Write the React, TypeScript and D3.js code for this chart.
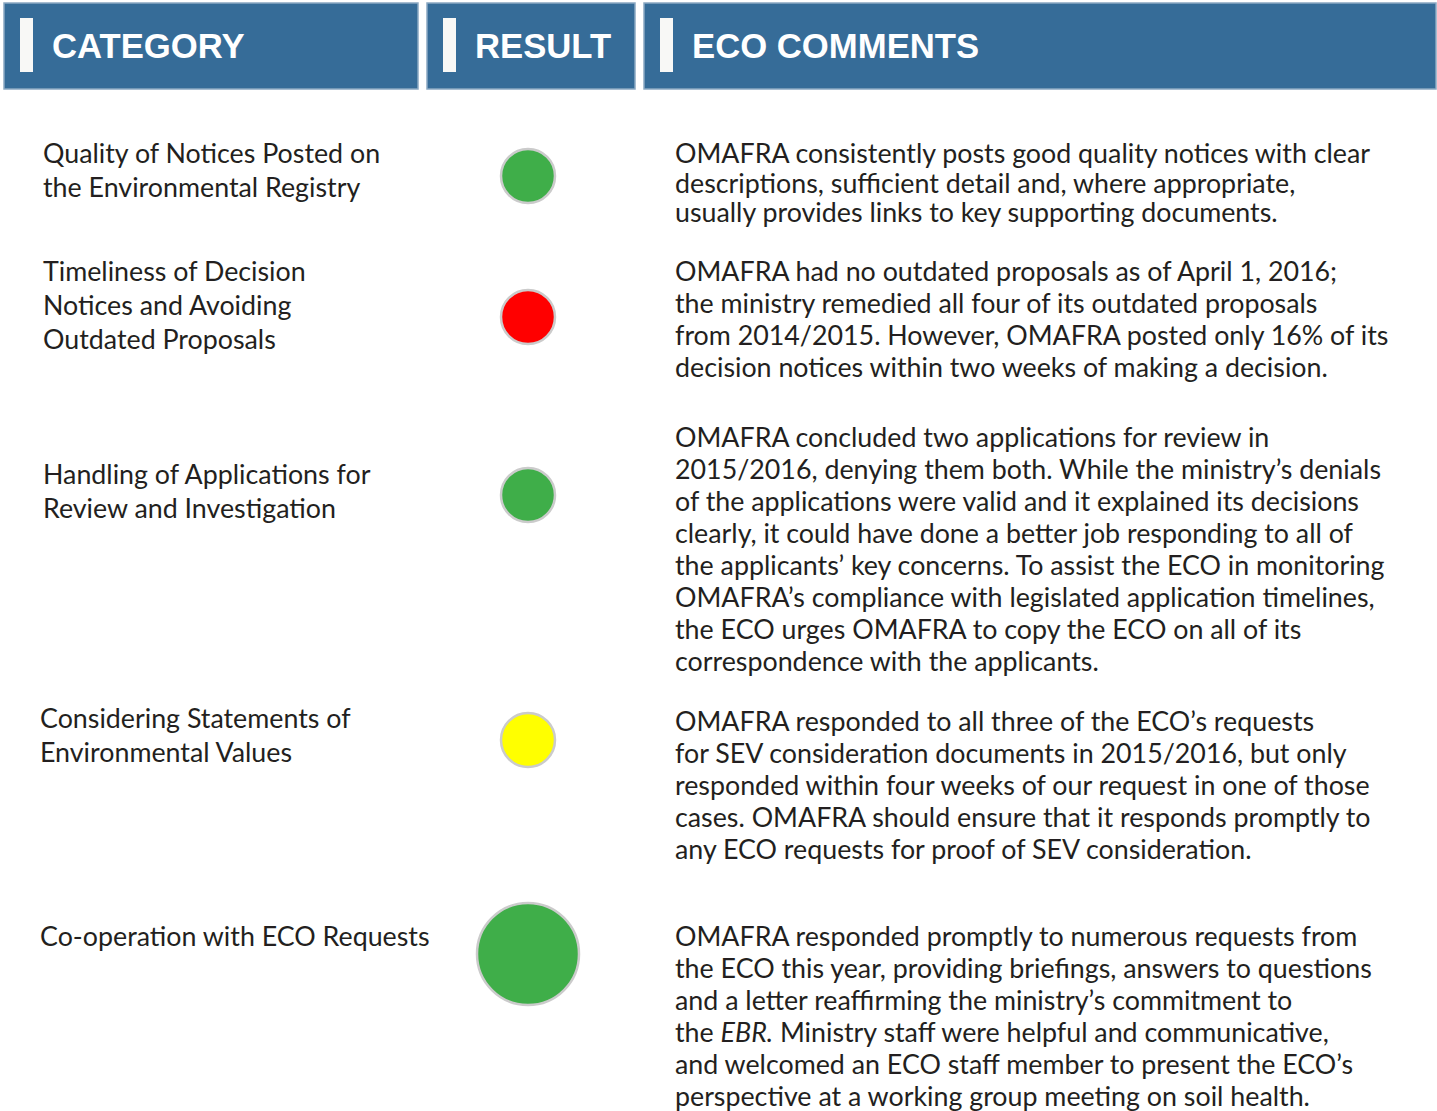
import React, { useEffect, useRef } from 'react';
import * as d3 from 'd3';

// column headers
const headers = ['CATEGORY', 'RESULT', 'ECO COMMENTS'];

// categories, one entry per row, split in lines as in the original
const categories = [
  ['Quality of Notices Posted on', 'the Environmental Registry'],
  ['Timeliness of Decision', 'Notices and Avoiding', 'Outdated Proposals'],
  ['Handling of Applications for', 'Review and Investigation'],
  ['Considering Statements of', 'Environmental Values'],
  ['Co-operation with ECO Requests'],
];

// traffic light result per row
const results = ['green', 'red', 'green', 'yellow', 'green'];

// eco comments, split in lines. *...* is italic
const comments = [
  [
    'OMAFRA consistently posts good quality notices with clear',
    'descriptions, sufficient detail and, where appropriate,',
    'usually provides links to key supporting documents.',
  ],
  [
    'OMAFRA had no outdated proposals as of April 1, 2016;',
    'the ministry remedied all four of its outdated proposals',
    'from 2014/2015. However, OMAFRA posted only 16% of its',
    'decision notices within two weeks of making a decision.',
  ],
  [
    'OMAFRA concluded two applications for review in',
    '2015/2016, denying them both. While the ministry’s denials',
    'of the applications were valid and it explained its decisions',
    'clearly, it could have done a better job responding to all of',
    'the applicants’ key concerns. To assist the ECO in monitoring',
    'OMAFRA’s compliance with legislated application timelines,',
    'the ECO urges OMAFRA to copy the ECO on all of its',
    'correspondence with the applicants.',
  ],
  [
    'OMAFRA responded to all three of the ECO’s requests',
    'for SEV consideration documents in 2015/2016, but only',
    'responded within four weeks of our request in one of those',
    'cases. OMAFRA should ensure that it responds promptly to',
    'any ECO requests for proof of SEV consideration.',
  ],
  [
    'OMAFRA responded promptly to numerous requests from',
    'the ECO this year, providing briefings, answers to questions',
    'and a letter reaffirming the ministry’s commitment to',
    'the *EBR.* Ministry staff were helpful and communicative,',
    'and welcomed an ECO staff member to present the ECO’s',
    'perspective at a working group meeting on soil health.',
  ],
];

// layout stuff (not data)
const W = 1437;
const H = 1111;
const cols = [
  { x0: 4, x1: 418 },
  { x0: 427, x1: 635 },
  { x0: 644, x1: 1436 },
];
const rowLayout = [
  { cy: 176, r: 27, catX: 43, catY: 163, comY: 163, comLH: 29.5 },
  { cy: 317, r: 27, catX: 43, catY: 281, comY: 281, comLH: 32 },
  { cy: 495, r: 27, catX: 43, catY: 484, comY: 447, comLH: 32 },
  { cy: 740, r: 27, catX: 40, catY: 728, comY: 731, comLH: 32 },
  { cy: 954, r: 51, catX: 40, catY: 946, comY: 946, comLH: 32 },
];

const colorOf = d3.scaleOrdinal<string, string>()
  .domain(['green', 'yellow', 'red'])
  .range(['#3fae49', '#ffff00', '#ff0000']);

const BODY_FONT = 'Lato, "Open Sans", sans-serif';
const BODY_SIZE = '26.8px';
const TEXT_COLOR = '#231f20';

const ReportCard = () => {
  const svgRef = useRef<SVGSVGElement>(null);

  useEffect(() => {
    const svg = d3.select(svgRef.current);
    svg.selectAll('*').remove();

    svg.append('rect').attr('width', W).attr('height', H).attr('fill', '#fff');

    // header boxes
    const head = svg.selectAll('g.head')
      .data(headers)
      .enter()
      .append('g')
      .attr('class', 'head');

    head.append('rect')
      .attr('x', (d, i) => cols[i].x0)
      .attr('y', 3)
      .attr('width', (d, i) => cols[i].x1 - cols[i].x0)
      .attr('height', 86)
      .attr('fill', '#366c98')
      .attr('stroke', '#8aa8c2')
      .attr('stroke-width', 1.5);

    head.append('rect')
      .attr('x', (d, i) => cols[i].x0 + 16)
      .attr('y', 18)
      .attr('width', 13)
      .attr('height', 54)
      .attr('fill', '#f8f8f6');

    head.append('text')
      .attr('x', (d, i) => cols[i].x0 + 48)
      .attr('y', 58)
      .attr('fill', '#fff')
      .attr('font-family', '"Liberation Sans", Arial, sans-serif')
      .attr('font-weight', 'bold')
      .attr('font-size', '34.7px')
      .text(d => d);

    // rows
    const rows = svg.selectAll('g.row')
      .data(results)
      .enter()
      .append('g')
      .attr('class', 'row');

    rows.each(function (d, i) {
      const g = d3.select(this);
      const L = rowLayout[i];

      // category text
      g.selectAll('text.cat')
        .data(categories[i])
        .enter()
        .append('text')
        .attr('class', 'cat')
        .attr('x', L.catX)
        .attr('y', (t, j) => L.catY + j * 34)
        .attr('font-family', BODY_FONT)
        .attr('font-size', BODY_SIZE)
        .attr('fill', TEXT_COLOR)
        .text(t => t);

      // result light
      g.append('circle')
        .attr('cx', 528)
        .attr('cy', L.cy)
        .attr('r', L.r)
        .attr('fill', colorOf(d))
        .attr('stroke', '#cbcbcb')
        .attr('stroke-width', 2.5);

      // comments
      const lines = g.selectAll('text.com')
        .data(comments[i])
        .enter()
        .append('text')
        .attr('class', 'com')
        .attr('x', 675)
        .attr('y', (t, j) => L.comY + j * L.comLH)
        .attr('font-family', BODY_FONT)
        .attr('font-size', BODY_SIZE)
        .attr('fill', TEXT_COLOR);

      lines.each(function (t) {
        const el = d3.select(this);
        t.split('*').forEach((part, k) => {
          if (!part) return;
          el.append('tspan')
            .attr('font-style', k % 2 === 1 ? 'italic' : 'normal')
            .text(part);
        });
      });
    });
  }, []);

  return (
    <svg ref={svgRef} width={W} height={H}
      style={{ position: 'absolute', left: 0, top: 0, display: 'block' }}></svg>
  );
};

export default function App() {
  return <ReportCard />;
}
